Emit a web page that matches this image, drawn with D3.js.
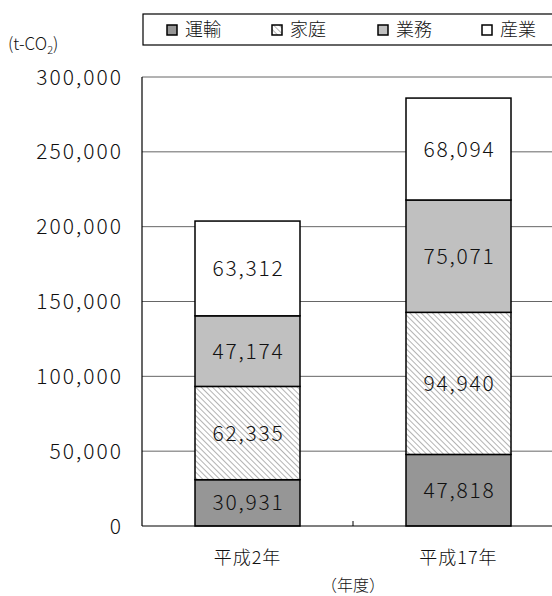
<!DOCTYPE html>
<html>
<head>
<meta charset="utf-8">
<script src="https://cdn.jsdelivr.net/npm/d3@7"></script>
<style>
  body { margin: 0; background: #fff; }
  svg { display: block; }
  .num { font-family: "Noto Sans CJK JP", sans-serif; font-weight: 300; }
  .jp { font-family: "Noto Sans CJK JP", sans-serif; font-weight: 300; }
</style>
</head>
<body>
<div id="container"></div>
<script>
/* DATA */
const years = ["平成2年", "平成17年"];
const sectors = ["運輸", "家庭", "業務", "産業"];
const unyu = [30931, 47818];
const katei = [62335, 94940];
const gyomu = [47174, 75071];
const sangyo = [63312, 68094];
const yTicks = [0, 50000, 100000, 150000, 200000, 250000, 300000];

const width = 552;
const height = 596;
const plotL = 142, plotR = 564, plotT = 77, plotB = 526;

const svg = d3.select("#container").append("svg")
  .attr("width", width)
  .attr("height", height);

// hatch for 家庭 (lines running top-left to bottom-right)
const defs = svg.append("defs");
const pat = defs.append("pattern")
  .attr("id", "hatch")
  .attr("patternUnits", "userSpaceOnUse")
  .attr("width", 4).attr("height", 4)
  .attr("patternTransform", "rotate(-45)");
pat.append("rect").attr("width", 4).attr("height", 4).attr("fill", "#fff");
pat.append("line").attr("x1", 0).attr("y1", 0).attr("x2", 0).attr("y2", 4)
  .attr("stroke", "#a0a0a0").attr("stroke-width", 1.6);

const fills = {"運輸": "#969696", "家庭": "url(#hatch)", "業務": "#c0c0c0", "産業": "#ffffff"};

const rows = years.map((y, i) => ({
  year: y, "運輸": unyu[i], "家庭": katei[i], "業務": gyomu[i], "産業": sangyo[i]
}));
const stacked = d3.stack().keys(sectors)(rows);

/* SCALES */
const xScale = d3.scaleBand().domain(years).range([plotL, plotR]).paddingInner(0).paddingOuter(0);
const yScale = d3.scaleLinear().domain([0, 300000]).range([plotB, plotT]);
const barW = 105;

// gridlines
svg.append("g").selectAll("line")
  .data(yTicks.filter(d => d > 0))
  .join("line")
  .attr("x1", plotL).attr("x2", plotR)
  .attr("y1", d => yScale(d)).attr("y2", d => yScale(d))
  .attr("stroke", "#666").attr("stroke-width", 1);

// bars
const groups = svg.append("g").selectAll("g")
  .data(stacked)
  .join("g")
  .attr("fill", d => fills[d.key]);

groups.selectAll("rect")
  .data(d => d)
  .join("rect")
  .attr("x", d => xScale(d.data.year) + (xScale.bandwidth() - barW) / 2)
  .attr("y", d => yScale(d[1]))
  .attr("width", barW)
  .attr("height", d => yScale(d[0]) - yScale(d[1]))
  .attr("stroke", "#000")
  .attr("stroke-width", 1.5);

// value labels
const fmt = d3.format(",");
stacked.forEach(s => {
  svg.append("g").selectAll("text")
    .data(s)
    .join("text")
    .attr("class", "num")
    .attr("x", d => xScale(d.data.year) + xScale.bandwidth() / 2 + 1)
    .attr("y", d => (yScale(d[0]) + yScale(d[1])) / 2)
    .attr("dy", "0.36em")
    .attr("text-anchor", "middle")
    .attr("font-size", 21)
    .attr("letter-spacing", 1.8)
    .attr("fill", "#111")
    .text(d => fmt(d[1] - d[0]));
});

// axes
svg.append("line").attr("x1", plotL).attr("x2", plotL).attr("y1", plotT).attr("y2", plotB)
  .attr("stroke", "#000").attr("stroke-width", 1.2);
svg.append("line").attr("x1", plotL).attr("x2", plotR).attr("y1", plotB).attr("y2", plotB)
  .attr("stroke", "#000").attr("stroke-width", 1.2);
svg.append("line")
  .attr("x1", xScale(years[1])).attr("x2", xScale(years[1]))
  .attr("y1", plotB).attr("y2", plotB - 5)
  .attr("stroke", "#000");

// y tick labels
svg.append("g").selectAll("text")
  .data(yTicks)
  .join("text")
  .attr("class", "num")
  .attr("x", 123)
  .attr("y", d => yScale(d))
  .attr("dy", "0.36em")
  .attr("text-anchor", "end")
  .attr("font-size", 21)
  .attr("letter-spacing", 2)
  .attr("fill", "#111")
  .text(d => fmt(d));

// unit label
const unit = svg.append("text").attr("class", "num")
  .attr("x", 8).attr("y", 50).attr("font-size", 17).attr("fill", "#111");
unit.append("tspan").text("(t-CO");
unit.append("tspan").attr("font-size", 11).attr("dy", 4).text("2");
unit.append("tspan").attr("dy", -4).text(")");

// x labels
svg.append("g").selectAll("text")
  .data(years)
  .join("text")
  .attr("class", "jp")
  .attr("x", d => xScale(d) + xScale.bandwidth() / 2)
  .attr("y", 558)
  .attr("dy", "0.36em")
  .attr("text-anchor", "middle")
  .attr("font-size", 18)
  .attr("letter-spacing", 1)
  .attr("fill", "#111")
  .text(d => d);

svg.append("text").attr("class", "jp")
  .attr("x", xScale(years[1]))
  .attr("y", 585).attr("dy", "0.36em")
  .attr("text-anchor", "middle")
  .attr("font-size", 16).attr("fill", "#111")
  .text("（年度）");

// legend
svg.append("rect").attr("x", 143).attr("y", 14).attr("width", 430).attr("height", 31)
  .attr("fill", "#fff").attr("stroke", "#000").attr("stroke-width", 1.2);
const legX = [167, 272, 378, 482];
const leg = svg.append("g").selectAll("g")
  .data(sectors)
  .join("g")
  .attr("transform", (d, i) => `translate(${legX[i]},30)`);
leg.append("rect").attr("x", 0).attr("y", -5).attr("width", 10).attr("height", 10)
  .attr("fill", d => fills[d]).attr("stroke", "#000").attr("stroke-width", 1.5);
leg.append("text").attr("class", "jp")
  .attr("x", 18).attr("y", 0).attr("dy", "0.36em")
  .attr("font-size", 18).attr("fill", "#111")
  .text(d => d);
</script>
</body>
</html>
